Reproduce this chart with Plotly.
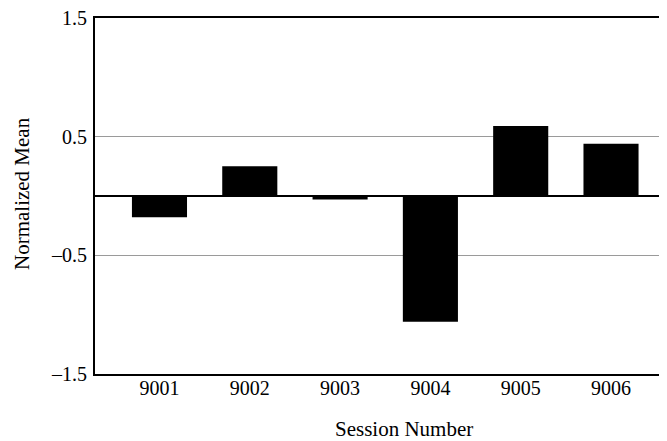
import plotly.graph_objects as go

sessions = ["9001", "9002", "9003", "9004", "9005", "9006"]
normalized_mean = [-0.18, 0.25, -0.03, -1.06, 0.59, 0.44]
y_ticks = [1.5, 0.5, -0.5, -1.5]

FONT = "Liberation Serif"

# page body has an 8px default margin; figure is sized/offset to compensate
W, H = 659, 433
L, T, B = 87, 10, 67
PW, PH = W - L, H - T - B

fig = go.Figure(
    go.Bar(
        x=sessions,
        y=normalized_mean,
        marker=dict(color="black", line=dict(width=0)),
        width=0.61,
    )
)

fig.update_layout(
    width=W,
    height=H,
    margin=dict(l=L, r=0, t=T, b=B, autoexpand=False),
    paper_bgcolor="white",
    plot_bgcolor="white",
    showlegend=False,
    font=dict(family=FONT, color="black", size=20),
    annotations=[
        dict(text="Session Number", xref="paper", yref="paper", x=(396 - L) / PW,
             y=-(421 - (H - B)) / PH, xanchor="center", yanchor="middle", showarrow=False,
             font=dict(family=FONT, size=21)),
        dict(text="Normalized Mean", xref="paper", yref="paper", x=-(L - 14) / PW,
             y=((H - B) - 186) / PH, xanchor="center", yanchor="middle", textangle=-90,
             showarrow=False, font=dict(family=FONT, size=21)),
    ],
)

fig.update_xaxes(
    type="category",
    range=[-0.714, 5.62],
    automargin=False,
    showline=True,
    linecolor="black",
    linewidth=2,
    mirror=True,
    showgrid=False,
    ticks="",
    ticklabelstandoff=-5,
    tickfont=dict(family=FONT, size=20),
)

fig.update_yaxes(
    range=[-1.5, 1.5],
    automargin=False,
    tickvals=y_ticks,
    ticktext=[f"{v:.1f}".replace("-", "\u2013") for v in y_ticks],
    ticklabeloverflow="allow",
    showline=True,
    linecolor="black",
    linewidth=2,
    mirror=False,
    showgrid=True,
    gridcolor="#9a9a9a",
    gridwidth=1,
    zeroline=True,
    zerolinecolor="black",
    zerolinewidth=2,
    ticks="",
    ticklabelstandoff=2,
    tickfont=dict(family=FONT, size=20),
)

fig.write_html("out.html")
